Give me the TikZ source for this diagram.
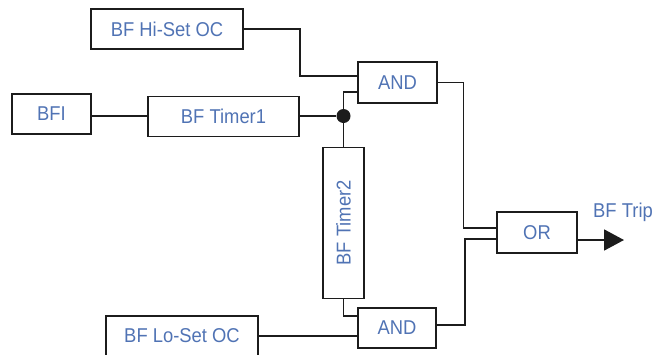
\documentclass[tikz,border=0pt]{standalone}
\usepackage{fontspec}
\setmainfont{Liberation Sans}
\newfontfamily\labfont[FakeStretch=0.92]{Liberation Sans}
\usetikzlibrary{calc,arrows.meta}
\definecolor{linec}{RGB}{28,28,28}
\definecolor{txt}{RGB}{80,115,180}
\begin{document}
\begin{tikzpicture}[x=1pt,y=-1pt,
  box/.style={draw=linec, line width=1.8pt, text=txt, font=\labfont\fontsize{20}{22}\selectfont, inner sep=0pt, minimum height=40pt},
  wire/.style={draw=linec, line width=1.8pt}]
\useasboundingbox (0,0) rectangle (653,354);
\node[box, minimum width=152pt] (hi) at (167,29) {BF Hi-Set OC};
\node[box, minimum width=79pt] (bfi) at (51.5,114) {BFI};
\node[box, minimum width=151pt] (t1) at (223.5,116.5) {BF Timer1};
\node[box, minimum width=79pt, minimum height=41pt] (and1) at (397.5,82.5) {AND};
\node[box, minimum width=41pt, minimum height=151pt] (t2) at (343.5,223) {\rotatebox{90}{BF Timer2}};
\node[box, minimum width=78pt] (and2) at (397,328) {AND};
\node[box, minimum width=152pt] (lo) at (182,336) {BF Lo-Set OC};
\node[box, minimum width=80pt, minimum height=41pt] (or) at (537,232.5) {OR};
\node[circle, fill=linec, inner sep=0pt, minimum size=14pt] (dot) at (343.5,116) {};
\node[text=txt, font=\labfont\fontsize{20}{22}\selectfont, anchor=base west, inner sep=0pt] (tripl) at (593,217) {BF Trip};
\coordinate (trip) at (624,240);
\draw[wire] (hi.east) -- ++(56,0) |- ($(and1.west)+(0,-6.5)$);
\draw[wire] (bfi.east |- dot) -- (t1.west |- dot);
\draw[wire] (t1.east |- dot) -- (dot);
\draw[wire] (dot) |- ($(and1.west)+(0,9.5)$);
\draw[wire] (dot) -- (t2.north);
\draw[wire] (t2.south) |- ($(and2.west)+(0,-12)$);
\draw[wire] (lo.east) -- (lo.east -| and2.west);
\draw[wire] (and1.east) -- ++(25.5,0) |- ($(or.west)+(0,-4.5)$);
\draw[wire] ($(and2.east)+(0,-3)$) -- ++(28,0) |- ($(or.west)+(0,6.5)$);
\draw[wire, -{Triangle[length=20pt,width=21pt]}] ($(or.east)+(0,7.5)$) -- (trip);
\end{tikzpicture}
\end{document}
